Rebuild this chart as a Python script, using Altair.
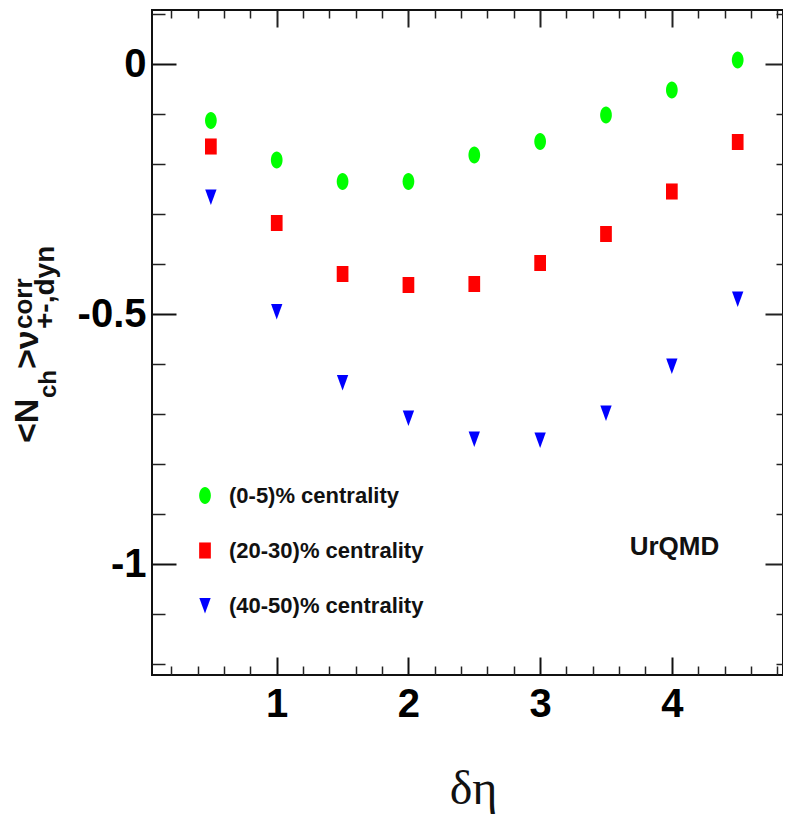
import altair as alt
import pandas as pd

# ---------------- data ----------------
deta = [0.5, 1.0, 1.5, 2.0, 2.5, 3.0, 3.5, 4.0, 4.5]
series = ["(0-5)% centrality", "(20-30)% centrality", "(40-50)% centrality"]
v_0_5 = [-0.113, -0.192, -0.235, -0.235, -0.182, -0.155, -0.102, -0.052, 0.008]
v_20_30 = [-0.165, -0.318, -0.420, -0.442, -0.440, -0.398, -0.340, -0.255, -0.156]
v_40_50 = [-0.266, -0.495, -0.637, -0.708, -0.750, -0.752, -0.698, -0.604, -0.470]
colors = ["#00ff00", "#ff0000", "#0000ff"]

x_major = [1, 2, 3, 4]
x_minor = [0.2, 0.4, 0.6, 0.8, 1.2, 1.4, 1.6, 1.8, 2.2, 2.4, 2.6, 2.8,
           3.2, 3.4, 3.6, 3.8, 4.2, 4.4, 4.6, 4.8]
y_major = [0, -0.5, -1]
y_minor = [0.1, -0.1, -0.2, -0.3, -0.4, -0.6, -0.7, -0.8, -0.9, -1.1, -1.2]

ann_text = ["UrQMD"]
ann_x = [4.02]
ann_y = [-0.966]

# ---------------- tables ----------------
rows = []
for name, vals in zip(series, [v_0_5, v_20_30, v_40_50]):
    for d, v in zip(deta, vals):
        rows.append({"deta": d, "value": v, "series": name})
df = pd.DataFrame(rows)
ann = pd.DataFrame({"x": ann_x, "y": ann_y, "t": ann_text})

SANS = "Liberation Sans, Arial, Helvetica, sans-serif"
SERIF = "Liberation Serif, Times New Roman, serif"

xscale = alt.Scale(domain=[0.053, 4.844], nice=False, zero=False)
yscale = alt.Scale(domain=[-1.222, 0.108], nice=False, zero=False)

ellipse = "M-0.62,0A0.62,0.9 0 1,0 0.62,0A0.62,0.9 0 1,0 -0.62,0Z"
rect = "M-0.62,-0.85L0.62,-0.85L0.62,0.85L-0.62,0.85Z"
tri = "M-0.6,-0.8L0.6,-0.8L0,0.85Z"

leg = alt.Legend(orient="none", legendX=42, legendY=474.5, title=None,
                 labelFont=SANS, labelFontSize=22, labelFontWeight="bold",
                 labelColor="#111", symbolSize=357, rowPadding=33,
                 labelOffset=13, padding=0, symbolStrokeWidth=0,
                 symbolOpacity=1, labelLimit=400)

# main points with bottom/left major axes
points = alt.Chart(df).mark_point(filled=True, size=357, opacity=1, strokeWidth=0).encode(
    x=alt.X("deta:Q", scale=xscale,
            axis=alt.Axis(orient="bottom", values=x_major, tickSize=18, offset=-18,
                          tickWidth=2, tickColor="#111", domain=False, grid=False,
                          labelExpr="'' + datum.value", labelFont=SANS,
                          labelFontSize=40, labelFontWeight="bold", labelColor="#000",
                          labelPadding=9, labelOverlap=False, labelFlush=False,
                          title="δη", titleFont=SERIF, titleFontSize=48,
                          titleFontWeight="normal", titleColor="#111",
                          titleBaseline="alphabetic", titleY=146, titleX=321)),
    y=alt.Y("value:Q", scale=yscale,
            axis=alt.Axis(orient="left", values=y_major, tickSize=24, offset=-24,
                          tickWidth=2, tickColor="#111", domain=False, grid=False,
                          labelExpr="'' + datum.value", labelFont=SANS,
                          labelFontSize=40, labelFontWeight="bold", labelColor="#000",
                          labelPadding=6, labelOverlap=False, labelFlush=False,
                          title=None)),
    color=alt.Color("series:N", scale=alt.Scale(domain=series, range=colors),
                    sort=series, legend=leg),
    shape=alt.Shape("series:N", scale=alt.Scale(domain=series, range=[ellipse, rect, tri]),
                    sort=series, legend=leg),
)

def ghost(xaxis, yaxis):
    return alt.Chart(df).mark_point(opacity=0).encode(
        x=alt.X("deta:Q", scale=xscale, axis=xaxis),
        y=alt.Y("value:Q", scale=yscale, axis=yaxis),
    )

def ax(orient, values, size, width=1.5):
    return alt.Axis(orient=orient, values=values, tickSize=size, offset=-size,
                    tickWidth=width, tickColor="#222", domain=False, grid=False,
                    labels=False, title=None)

minor_bl = ghost(ax("bottom", x_minor, 9), ax("left", y_minor, 13))
major_tr = ghost(ax("top", x_major, 17, 2), ax("right", y_major, 18, 2))
minor_tr = ghost(ax("top", x_minor, 8), ax("right", y_minor, 7))

urqmd = alt.Chart(ann).mark_text(font=SANS, fontSize=26, fontWeight="bold",
                                 color="#111", align="center", baseline="middle").encode(
    x=alt.X("x:Q", scale=xscale, axis=None),
    y=alt.Y("y:Q", scale=yscale, axis=None),
    text="t:N",
)

def title_piece(txt, px, py, fs):
    return alt.Chart(pd.DataFrame({"t": [txt]})).mark_text(
        font=SANS, fontSize=fs, fontWeight="bold", color="#111", angle=270,
        align="left", baseline="alphabetic").encode(
        text="t:N", x=alt.value(px), y=alt.value(py))

ytitle = [
    title_piece("<N", -114, 433, 34),
    title_piece("ch", -96, 388, 24),
    title_piece(">ν", -114, 359, 34),
    title_piece("corr", -120, 319, 26),
    title_piece("+-,dyn", -98, 319, 28),
]

chart = alt.layer(points, minor_bl, major_tr, minor_tr, urqmd, *ytitle).resolve_axis(
    x="independent", y="independent"
).properties(
    width=631, height=665,
    padding={"left": 144, "top": 2, "right": 0, "bottom": 144},
    autosize=alt.AutoSizeParams(type="none"),
    background="white",
).configure_view(stroke="#111", strokeWidth=2)

chart.save("out.html", embed_options={"renderer": "svg", "actions": False})
